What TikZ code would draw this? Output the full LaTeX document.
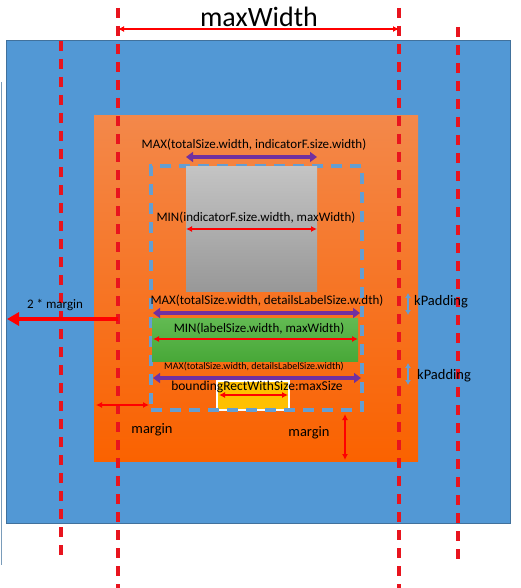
\documentclass[tikz,border=0pt]{standalone}
\usepackage{fontspec}
\setmainfont{Carlito}
\usetikzlibrary{arrows.meta,positioning,calc}
\definecolor{screenblue}{RGB}{82,152,213}
\definecolor{screenedge}{RGB}{65,113,156}
\definecolor{guidered}{RGB}{232,20,30}
\definecolor{boxpurple}{RGB}{112,48,160}
\definecolor{padblue}{RGB}{100,158,210}
\tikzset{
  >=Latex,
  panel/.style  = {inner sep=0pt, outer sep=0pt},
  guide/.style  = {draw=guidered, line width=3.6pt, dash pattern=on 10pt off 8pt},
  dimred/.style = {{Latex[length=6pt,width=6pt]}-{Latex[length=6pt,width=6pt]}, draw=red, line width=1.2pt},
  dimmax/.style = {{Triangle[length=7pt,width=10pt]}-{Triangle[length=7pt,width=10pt]}, draw=boxpurple, line width=3.4pt},
  dimpad/.style = {{Latex[length=5pt,width=6pt]}-{Latex[length=5pt,width=6pt]}, draw=padblue, line width=1.8pt},
  lbl/.style    = {inner sep=0pt, font=\fontsize{13}{15}\selectfont},
  every node/.style = {font=\small}
}

\begin{document}
\begin{tikzpicture}[x=1pt, y=-1pt]
  \useasboundingbox (0,0) rectangle (521,588);

  %  --  Window edge, screen and card
  \draw[screenedge!70, line width=1pt] (1,82) -- (1,565);
  \node[panel, draw=screenedge, line width=1pt, fill=screenblue, minimum width=504, minimum height=482] (screen) at (258,282) {};
  \node[panel, top color={rgb,255:red,243;green,136;blue,74}, bottom color={rgb,255:red,250;green,98;blue,0},
        minimum width=324, minimum height=345] (card) at (256,288.5) {};

  %  --  Content area: yellow box, dashed frame, indicator and label
  \node[panel, draw=white, line width=1.4pt, fill={rgb,255:red,255;green,192;blue,0},
        minimum width=72, minimum height=29] (bounds) at (253,395.5) {};
  \node[panel, draw=padblue, line width=3.2pt, dash pattern=on 11pt off 8pt,
        minimum width=211, minimum height=244] (content) at (256.5,288) {};
  \node[panel, top color={rgb,255:red,196;green,196;blue,196}, bottom color={rgb,255:red,152;green,152;blue,152},
        minimum width=131, minimum height=125] (indicator) at (251.5,228.5) {};
  \node[panel, top color={rgb,255:red,98;green,186;blue,82}, bottom color={rgb,255:red,72;green,168;blue,56},
        minimum width=206, minimum height=43] (label) at (255,339.5) {};

  %  --  Red dashed guides
  \foreach \gx/\gt/\gb in {61/41/557, 118/8/588, 399/8/588, 458/27/561}{
    \coordinate (gt\gx) at (\gx,\gt);
    \coordinate (gb\gx) at (\gx,\gb);
    \draw[guide] (gt\gx) -- (gb\gx);
  }

  %  --  maxWidth on top
  \node[inner sep=0pt, font=\fontsize{28}{32}\selectfont] (maxw) at (259,17) {maxWidth};
  \coordinate (mwL) at (118,29);
  \coordinate (mwR) at (399,29);
  \draw[dimred] (mwL) -- (mwR);

  %  --  Widths inside the content area
  \node[lbl] (maxind) at (254,145) {MAX(totalSize.width, indicatorF.size.width)};
  \coordinate (mi1) at (186,157);  \coordinate (mi2) at (317,157);
  \draw[dimmax] (mi1) -- (mi2);

  \node[lbl] (minind) at (256,218) {MIN(indicatorF.size.width, maxWidth)};
  \coordinate (ni1) at (186,229);  \coordinate (ni2) at (317,229);
  \draw[dimred] (ni1) -- (ni2);

  \node[lbl] (maxdet) at (267,301) {MAX(totalSize.width, detailsLabelSize.w.dth)};
  \coordinate (md1) at (153,313);  \coordinate (md2) at (360,313);
  \draw[dimmax] (md1) -- (md2);

  \node[lbl] (minlbl) at (259,329) {MIN(labelSize.width, maxWidth)};
  \coordinate (nl1) at (153,339);  \coordinate (nl2) at (358,339);
  \draw[dimred] (nl1) -- (nl2);

  \node[lbl, font=\fontsize{10}{12}\selectfont] (maxdet2) at (254,367) {MAX(totalSize.width, detailsLabelSize.width)};
  \coordinate (me1) at (153,378);  \coordinate (me2) at (361,378);
  \draw[dimmax] (me1) -- (me2);

  \node[lbl, font=\fontsize{13.5}{16}\selectfont] (rect) at (257,387) {boundingRectWithSize:maxSize};
  \coordinate (nb1) at (219,395);  \coordinate (nb2) at (288,395);
  \draw[dimred] (nb1) -- (nb2);

  %  --  kPadding
  \coordinate (kp1t) at (408,293);  \coordinate (kp1b) at (408,315);
  \draw[dimpad] (kp1t) -- (kp1b);
  \node[lbl, font=\fontsize{14.5}{17}\selectfont, anchor=west] (kpad1) at (414,302) {kPadding};
  \coordinate (kp2t) at (408,363);  \coordinate (kp2b) at (408,385);
  \draw[dimpad] (kp2t) -- (kp2b);
  \node[lbl, font=\fontsize{14.5}{17}\selectfont, anchor=west] (kpad2) at (417,376) {kPadding};

  %  --  Margins
  \node[lbl] (twom) at (55,305) {2 * margin};
  \coordinate (tm1) at (118,319);  \coordinate (tm2) at (7,319);
  \draw[-{Triangle[length=12pt,width=13pt]}, draw=red, line width=4pt] (tm1) -- (tm2);

  \coordinate (ml1) at (96,405);  \coordinate (ml2) at (149,405);
  \draw[dimred, line width=1.4pt] (ml1) -- (ml2);
  \node[lbl, font=\fontsize{14.5}{17}\selectfont] (marl) at (152,430) {margin};

  \coordinate (mr1) at (345,414);  \coordinate (mr2) at (345,460);
  \draw[dimred, line width=1.4pt] (mr1) -- (mr2);
  \node[lbl, font=\fontsize{14.5}{17}\selectfont] (marr) at (309,433) {margin};
\end{tikzpicture}
\end{document}
